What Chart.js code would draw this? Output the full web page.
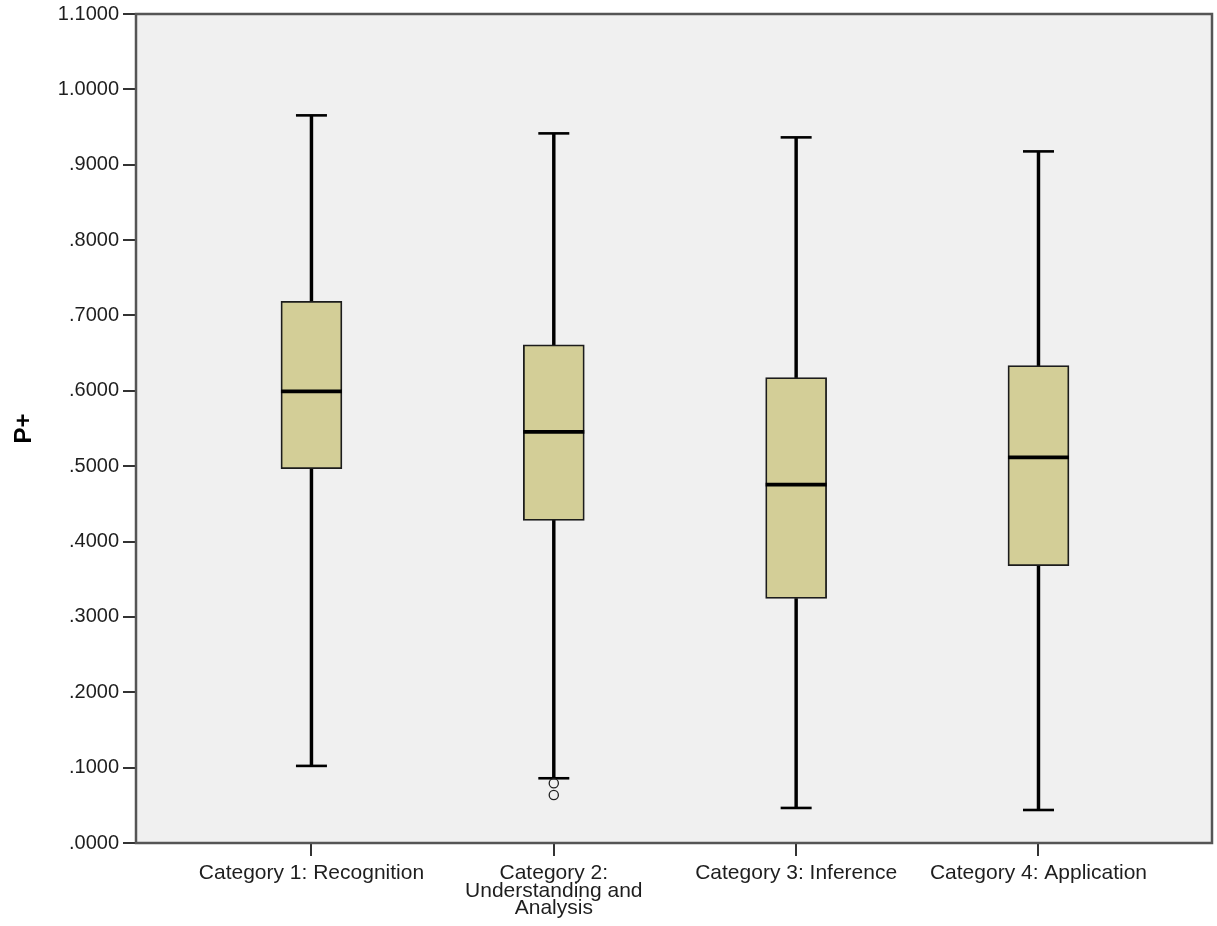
<!DOCTYPE html>
<html>
<head>
<meta charset="utf-8">
<script src="https://cdn.jsdelivr.net/npm/chart.js@4/dist/chart.umd.min.js"></script>
<style>
  html, body { margin: 0; padding: 0; background: #ffffff; }
  #wrap { width: 1217px; height: 926px; position: relative; }
</style>
</head>
<body>
<div id="wrap"><canvas id="c" width="1217" height="926"></canvas></div>
<script>
// ---- data ----
const categories = ["Category 1: Recognition", "Category 2:\nUnderstanding and\nAnalysis", "Category 3: Inference", "Category 4: Application"];
const whiskerLow  = [0.1023, 0.0859, 0.0465, 0.0438];
const q1          = [0.4967, 0.4280, 0.3244, 0.3679];
const median      = [0.5993, 0.5454, 0.4754, 0.5117];
const q3          = [0.7189, 0.6610, 0.6175, 0.6335];
const whiskerHigh = [0.9655, 0.9416, 0.9363, 0.9177];
const outlierCategory = [2, 2];
const outlierValue    = [0.0793, 0.0637];
const yTicks = [0, 0.1, 0.2, 0.3, 0.4, 0.5, 0.6, 0.7, 0.8, 0.9, 1.0, 1.1];
const yTitle = "P+";

const pos = categories.map((_, i) => i + 1);
const FONT = "'Liberation Sans', Arial, sans-serif";

const boxData = pos.map((p, i) => ({ x: p, y: [q1[i], q3[i]] }));
const lowerWhisker = pos.map((p, i) => ({ x: p, y: [whiskerLow[i], q1[i]] }));
const upperWhisker = pos.map((p, i) => ({ x: p, y: [q3[i], whiskerHigh[i]] }));
const capData = pos.flatMap((p, i) => [{ x: p, y: whiskerLow[i] }, { x: p, y: whiskerHigh[i] }]);
const medianData = pos.map((p, i) => ({ x: p, y: median[i] }));
const outlierData = outlierValue.map((v, i) => ({ x: outlierCategory[i], y: v }));

function zeroPad(axis) {
  axis.paddingTop = 0; axis.paddingBottom = 0; axis.paddingLeft = 0; axis.paddingRight = 0;
}

const plotBg = {
  id: 'plotBg',
  beforeDraw(chart) {
    const a = chart.chartArea, ctx = chart.ctx;
    ctx.save();
    ctx.fillStyle = '#f0f0f0';
    ctx.fillRect(a.left, a.top, a.right - a.left, a.bottom - a.top);
    ctx.restore();
  },
  afterDraw(chart) {
    const a = chart.chartArea, ctx = chart.ctx;
    ctx.save();
    ctx.strokeStyle = '#555555';
    ctx.lineWidth = 2.5;
    ctx.strokeRect(a.left, a.top, a.right - a.left, a.bottom - a.top);
    ctx.restore();
  }
};

new Chart(document.getElementById('c'), {
  type: 'bar',
  data: {
    datasets: [
      { type: 'bar', data: lowerWhisker, backgroundColor: '#000', borderWidth: 0, barThickness: 2.8, grouped: false, order: 5 },
      { type: 'bar', data: upperWhisker, backgroundColor: '#000', borderWidth: 0, barThickness: 2.8, grouped: false, order: 5 },
      { type: 'bar', data: boxData, backgroundColor: '#d3ce97', borderColor: '#1c1c1c', borderWidth: 1.8, borderSkipped: false, barThickness: 61, grouped: false, order: 4 },
      { type: 'scatter', data: capData, pointStyle: 'line', pointRadius: 15.5, borderColor: '#000', borderWidth: 2.6, order: 3 },
      { type: 'scatter', data: medianData, pointStyle: 'line', pointRadius: 30.5, borderColor: '#000', borderWidth: 3.8, order: 2 },
      { type: 'scatter', data: outlierData, pointStyle: 'circle', pointRadius: 4.6, backgroundColor: 'rgba(0,0,0,0)', borderColor: '#222', borderWidth: 1.3, order: 1 }
    ]
  },
  options: {
    responsive: false,
    animation: false,
    events: [],
    layout: { autoPadding: false, padding: { top: 14, right: 5, left: 0, bottom: 0 } },
    plugins: { legend: { display: false }, tooltip: { enabled: false } },
    scales: {
      x: {
        type: 'linear',
        min: 0.276,
        max: 4.716,
        offset: false,
        afterBuildTicks(axis) { axis.ticks = pos.map(v => ({ value: v })); },
        afterFit(axis) { axis.height = 83; zeroPad(axis); },
        ticks: {
          autoSkip: false,
          maxRotation: 0,
          padding: 9,
          color: '#1e1e1e',
          font: { family: FONT, size: 21, lineHeight: 0.82 },
          callback: (v) => { const i = Math.round(v) - 1; return categories[i] ? categories[i].split('\n') : ''; }
        },
        grid: { display: true, offset: false, drawOnChartArea: false, drawTicks: true, tickLength: 13, color: '#333', lineWidth: 2 },
        border: { display: false }
      },
      y: {
        min: 0,
        max: 1.1,
        afterBuildTicks(axis) { axis.ticks = yTicks.map(v => ({ value: v })); },
        afterFit(axis) { axis.width = 136; zeroPad(axis); },
        ticks: {
          padding: 4,
          color: '#1e1e1e',
          font: { family: FONT, size: 20 },
          callback: (v) => { const s = Number(v).toFixed(4); return s.startsWith('0') ? s.slice(1) : s; }
        },
        grid: { display: true, offset: false, drawOnChartArea: false, drawTicks: true, tickLength: 13, color: '#333', lineWidth: 2 },
        border: { display: false },
        title: { display: true, text: yTitle, color: '#000', font: { family: FONT, size: 24, weight: 'bold' }, padding: { top: 10, bottom: 0 } }
      }
    }
  },
  plugins: [plotBg]
});
</script>
</body>
</html>
